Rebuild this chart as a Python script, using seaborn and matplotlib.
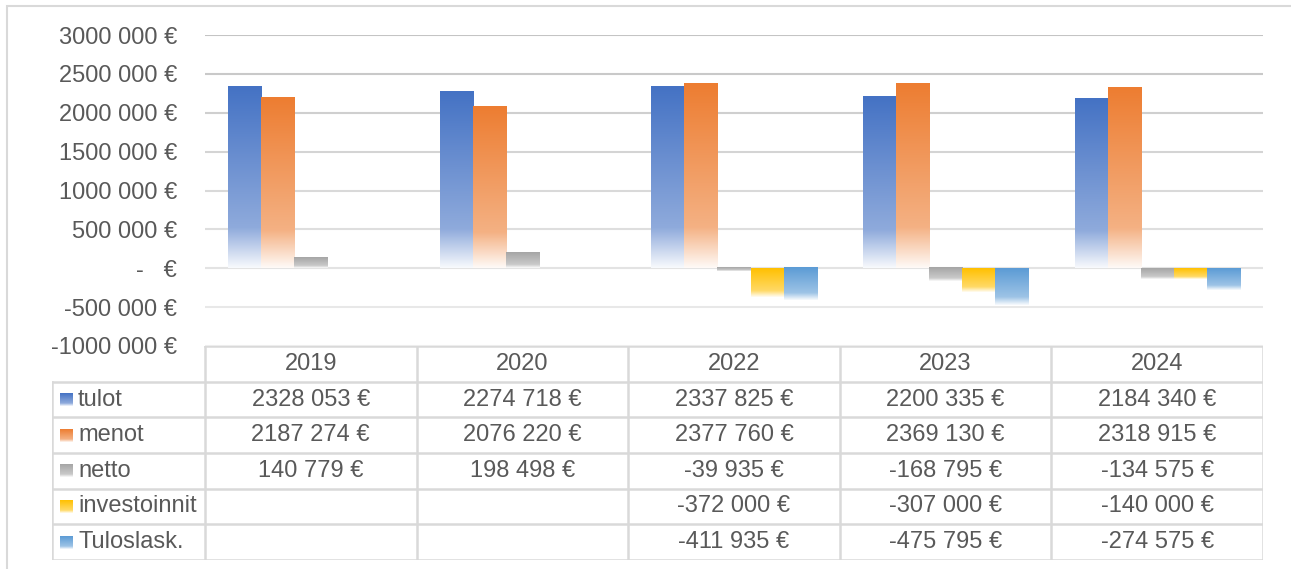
import matplotlib
matplotlib.use("Agg")
import matplotlib.pyplot as plt
import matplotlib.colors as mcolors
from matplotlib.patches import Rectangle
import numpy as np
import pandas as pd
import seaborn as sns

years = ["2019", "2020", "2022", "2023", "2024"]
series = ["tulot", "menot", "netto", "investoinnit", "Tuloslask."]
tulot = [2328053, 2274718, 2337825, 2200335, 2184340]
menot = [2187274, 2076220, 2377760, 2369130, 2318915]
netto = [140779, 198498, -39935, -168795, -134575]
investoinnit = [np.nan, np.nan, -372000, -307000, -140000]
tuloslask = [np.nan, np.nan, -411935, -475795, -274575]
colors = ["#4472C4", "#ED7D31", "#A5A5A5", "#FFC000", "#5B9BD5"]

TEXT = "#595959"
GRID = "#d9d9d9"
FS = 17


def eur(v):
    if v == 0:
        return "-   €"
    sign = "-" if v < 0 else ""
    v = int(round(abs(v)))
    if v >= 1000:
        return f"{sign}{v // 1000} {v % 1000:03d} €"
    return f"{sign}{v} €"


def fade(color, n=200):
    rgb = np.array(mcolors.to_rgb(color))
    t = np.linspace(0, 1, n)
    a = np.interp(t, [0, 0.78, 1.0], [1.0, 0.6, 0.04])[:, None]
    return (a * rgb + (1 - a))[:, None, :]


values = [tulot, menot, netto, investoinnit, tuloslask]
df = pd.DataFrame({
    "year": np.repeat(years, 1).tolist() * len(series),
    "series": np.repeat(series, len(years)),
    "value": np.concatenate(values),
})

sns.set_style("white")
plt.rcParams["font.family"] = ["Liberation Sans", "DejaVu Sans"]

W, H = 1291, 569
fig = plt.figure(figsize=(W / 100, H / 100), dpi=100)

# outer chart border
fig.patches.append(Rectangle((7 / W, -0.1), 1.2, 1.1 - 6 / H, transform=fig.transFigure,
                             fill=False, edgecolor=GRID, lw=1.5))

x0, x1 = 205, 1263
ax = fig.add_axes([x0 / W, 1 - 346 / H, (x1 - x0) / W, (346 - 35) / H])
sns.barplot(data=df, x="year", y="value", hue="series", order=years, hue_order=series,
            palette=dict(zip(series, colors)), width=0.78, errorbar=None, legend=False, ax=ax)

# replace flat fills with a vertical fade (colour at top -> white at bottom)
for container, col in zip(ax.containers, colors):
    for bar in container:
        if np.isnan(bar.get_height()):
            continue
        left, w = bar.get_x(), bar.get_width()
        y0, y1 = sorted([bar.get_y(), bar.get_y() + bar.get_height()])
        ax.imshow(fade(col), extent=[left, left + w, y0, y1], origin="upper",
                  aspect="auto", interpolation="bilinear", zorder=2)
        bar.set_visible(False)

ax.set_xlim(-0.5, 4.5)
ax.set_ylim(-1000000, 3000000)
yt = np.arange(-1000000, 3000001, 500000)
ax.set_yticks(yt)
ax.set_yticklabels([eur(v) for v in yt], color=TEXT, fontsize=FS)
ax.tick_params(axis="y", length=0, pad=20)
ax.set_xticks([])
ax.set_xlabel("")
ax.set_ylabel("")
for s in ax.spines.values():
    s.set_visible(False)
ax.grid(axis="y", lw=1.5)
ax.set_axisbelow(True)
grey = np.linspace(0.77, 0.93, len(yt))[::-1]
for gl, g in zip(ax.get_ygridlines(), grey):
    gl.set_color((g, g, g))

# data table below the plot
tl = 52
unit = (x1 - x0) / 5
tx0 = -0.5 - (x0 - tl) / unit
tax = fig.add_axes([tl / W, 1 - 560 / H, (x1 - tl) / W, (560 - 346) / H])
tax.set_xlim(tx0, 4.5)
tax.set_ylim(6, 0)
tax.axis("off")
lk = dict(color=GRID, lw=1.8, solid_capstyle="projecting")
tax.plot([-0.5, 4.5], [0, 0], **lk)
for r in range(1, 7):
    tax.plot([tx0, 4.5], [r, r], **lk)
tax.plot([tx0, tx0], [1, 6], **lk)
for c in np.arange(-0.5, 4.6, 1.0):
    tax.plot([c, c], [0, 6], **lk)

for i, y in enumerate(years):
    tax.text(i, 0.5, y, ha="center", va="center", color=TEXT, fontsize=FS)

kx = tx0 + 8 / unit
kw = 13 / unit
for r, (name, col, vals) in enumerate(zip(series, colors, values), start=1):
    tax.imshow(fade(col), extent=[kx, kx + kw, r + 0.68, r + 0.32], origin="upper",
               aspect="auto", interpolation="bilinear")
    tax.text(tx0 + 26 / unit, r + 0.5, name, ha="left", va="center", color=TEXT, fontsize=FS)
    for i, v in enumerate(vals):
        if not np.isnan(v):
            tax.text(i, r + 0.5, eur(v), ha="center", va="center", color=TEXT, fontsize=FS)
tax.set_xlim(tx0, 4.5)
tax.set_ylim(6, 0)

fig.savefig("out.png", dpi=100)
